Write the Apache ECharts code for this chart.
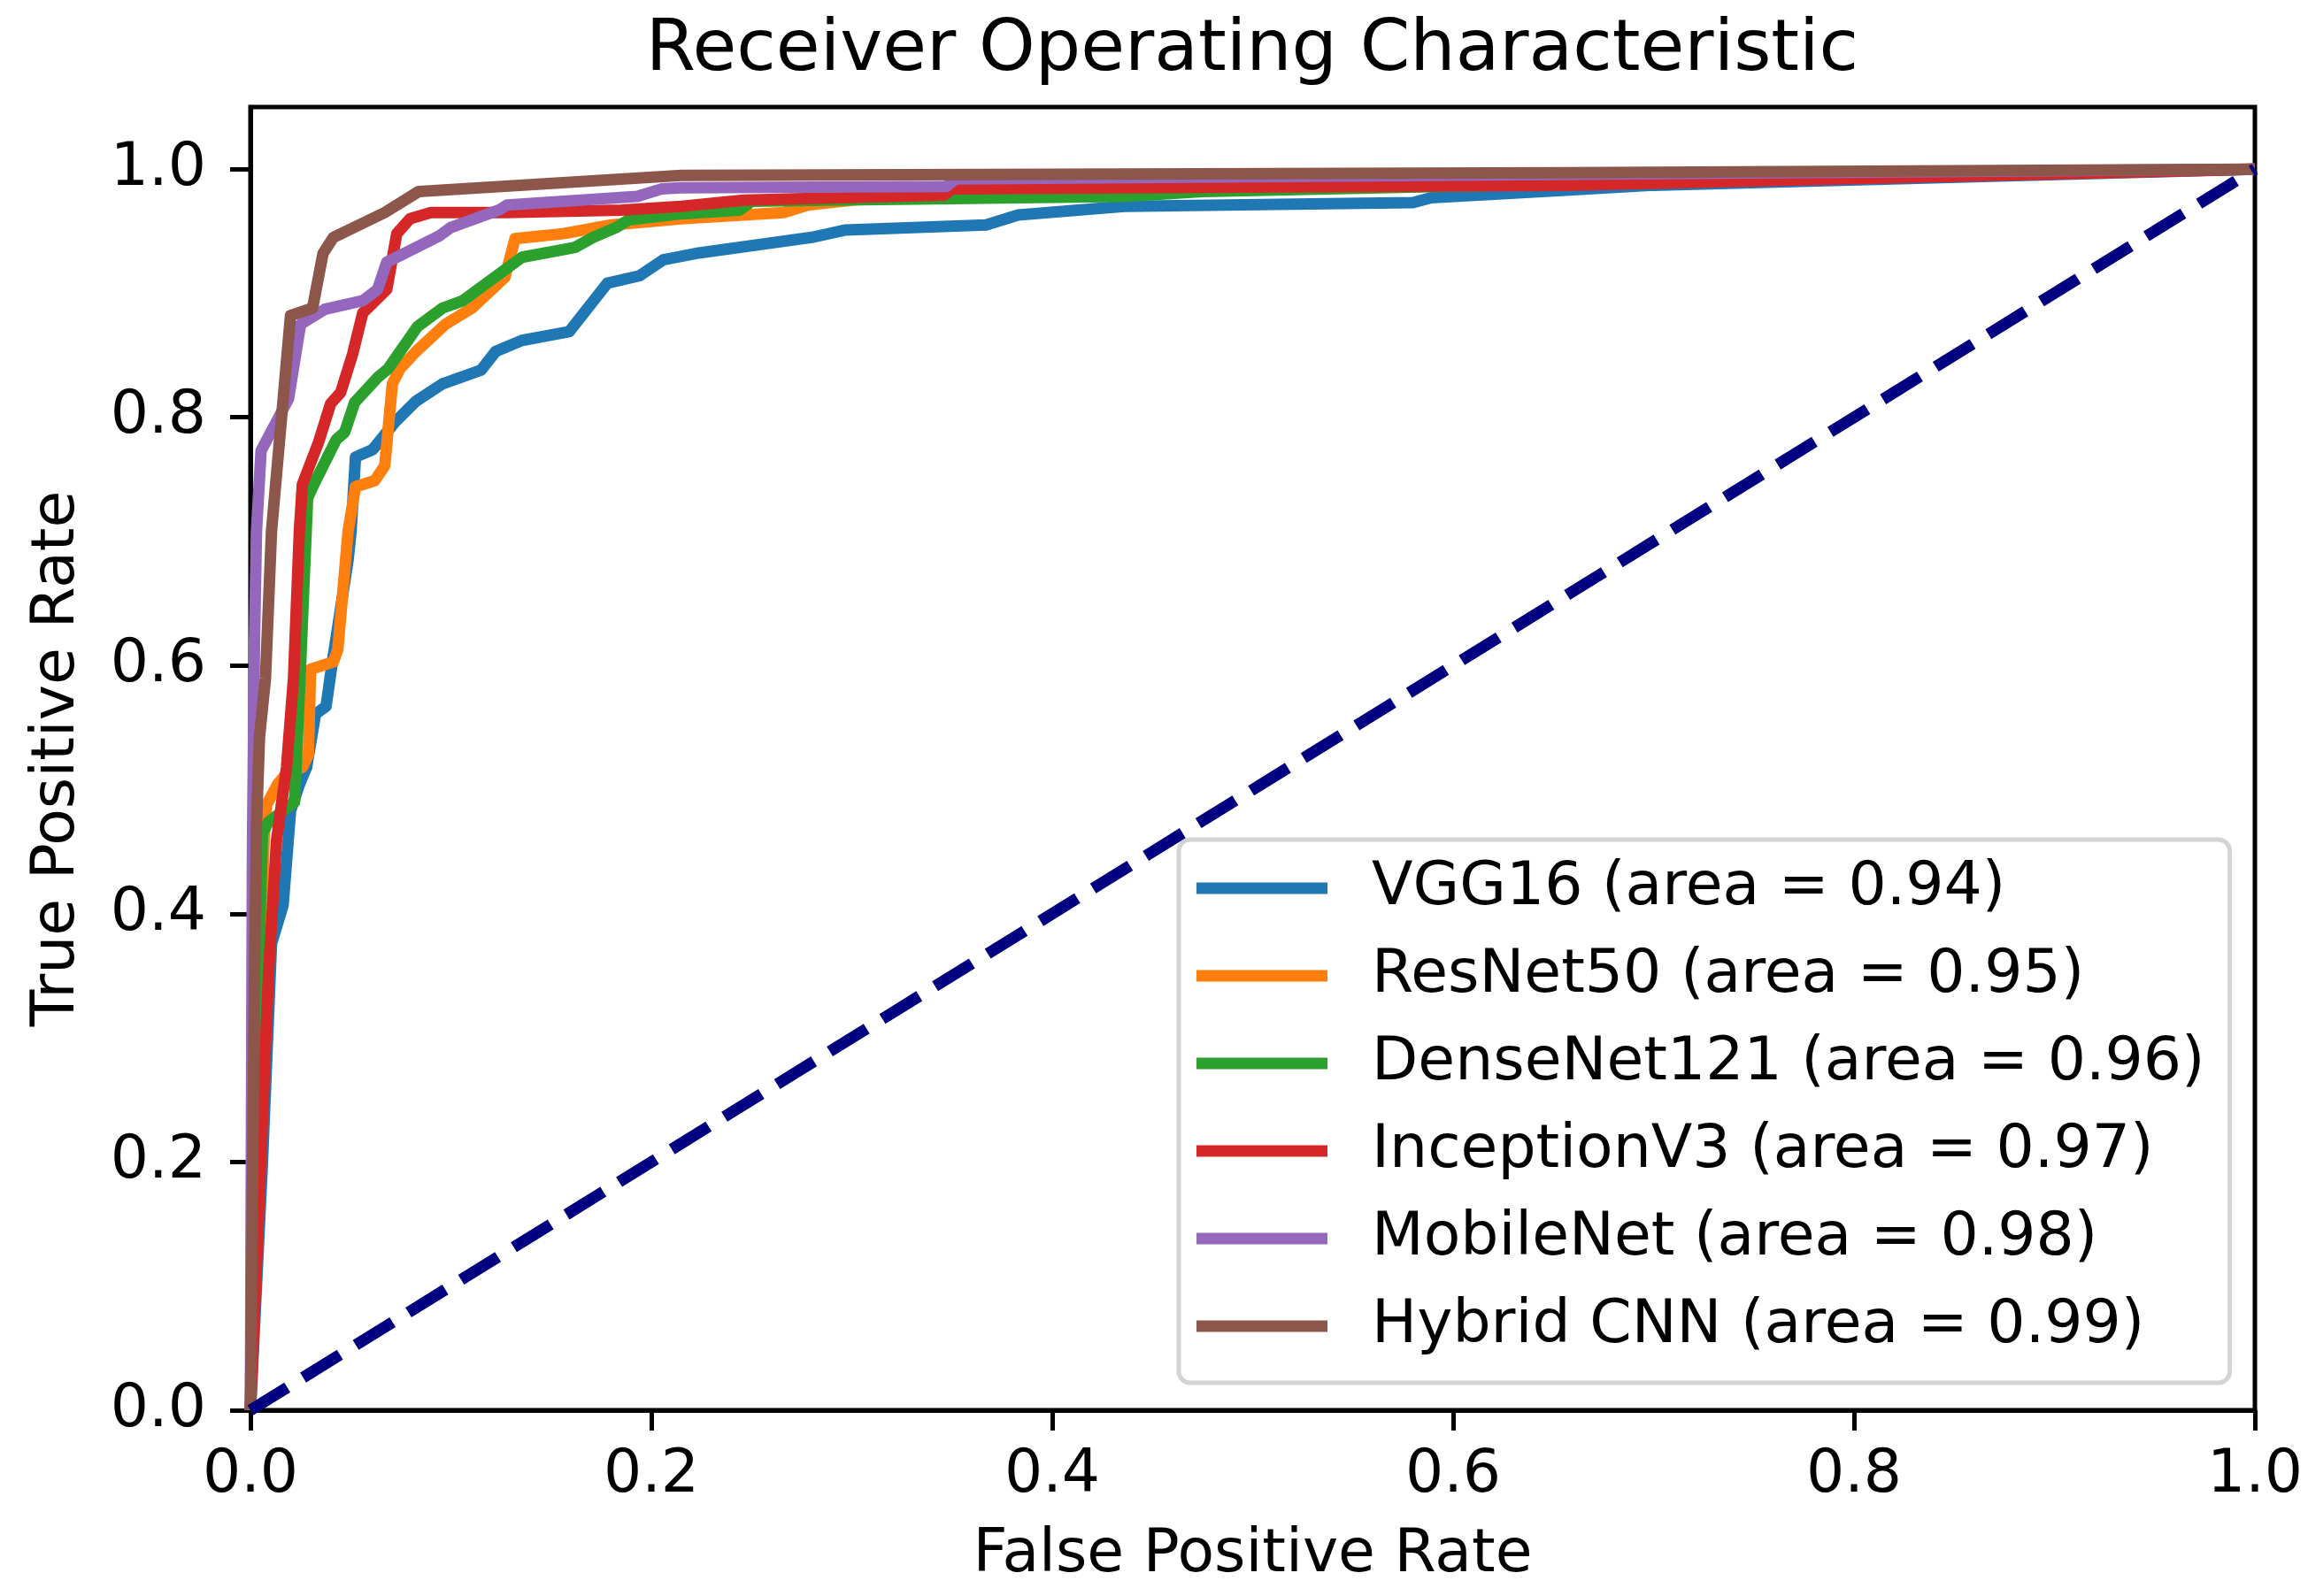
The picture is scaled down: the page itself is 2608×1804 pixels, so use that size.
<!DOCTYPE html>
<html>
<head>
<meta charset="utf-8">
<script src="https://cdn.jsdelivr.net/npm/echarts@6/dist/echarts.min.js"></script>
<style>
html,body{margin:0;padding:0;background:#fff;}
#chart{width:2608px;height:1804px;}
</style>
</head>
<body>
<div id="chart"></div>
<script>
const xTicks = [0, 0.2, 0.4, 0.6, 0.8, 1.0];
const yTicks = [0, 0.2, 0.4, 0.6, 0.8, 1.0];
const modelNames = ['VGG16 (area = 0.94)', 'ResNet50 (area = 0.95)', 'DenseNet121 (area = 0.96)',
  'InceptionV3 (area = 0.97)', 'MobileNet (area = 0.98)', 'Hybrid CNN (area = 0.99)'];
const modelColors = ['#1f77b4', '#ff7f0e', '#2ca02c', '#d62728', '#9467bd', '#8c564b'];

const vgg16 = [[0,0],[0.006,0.2],[0.0105,0.376],[0.0163,0.407],[0.020,0.483],[0.0244,0.504],[0.028,0.518],[0.0325,0.561],[0.0377,0.567],[0.0406,0.60],[0.0487,0.685],[0.0502,0.708],[0.0524,0.768],[0.061,0.774],[0.072,0.796],[0.0826,0.813],[0.0958,0.827],[0.115,0.838],[0.1223,0.853],[0.1355,0.862],[0.159,0.869],[0.178,0.908],[0.194,0.914],[0.206,0.927],[0.222,0.932],[0.280,0.945],[0.297,0.951],[0.367,0.955],[0.383,0.963],[0.436,0.970],[0.580,0.973],[0.589,0.977],[0.656,0.983],[0.70,0.987],[1,1]];
const resnet50 = [[0,0],[0.005,0.35],[0.0068,0.46],[0.008,0.4875],[0.0134,0.504],[0.0185,0.514],[0.0259,0.518],[0.0289,0.528],[0.030,0.597],[0.0414,0.603],[0.0436,0.613],[0.0487,0.708],[0.0524,0.744],[0.062,0.749],[0.067,0.761],[0.0708,0.827],[0.0745,0.839],[0.0826,0.853],[0.0973,0.875],[0.1105,0.888],[0.127,0.913],[0.132,0.944],[0.156,0.948],[0.180,0.955],[0.215,0.960],[0.266,0.965],[0.278,0.971],[0.30,0.975],[0.35,0.984],[0.5,0.99],[1,1]];
const densenet121 = [[0,0],[0.003,0.30],[0.006,0.465],[0.009,0.474],[0.022,0.49],[0.025,0.60],[0.0285,0.735],[0.0318,0.7465],[0.0428,0.782],[0.047,0.788],[0.052,0.812],[0.0634,0.832],[0.0686,0.839],[0.0833,0.873],[0.0958,0.888],[0.106,0.894],[0.1355,0.929],[0.162,0.937],[0.171,0.945],[0.1826,0.953],[0.1885,0.959],[0.215,0.964],[0.244,0.967],[0.250,0.974],[0.288,0.975],[0.436,0.978],[0.475,0.982],[1,1]];
const inceptionV3 = [[0,0],[0.009,0.352],[0.013,0.459],[0.018,0.518],[0.0215,0.59],[0.0244,0.708],[0.0259,0.746],[0.034,0.78],[0.040,0.811],[0.045,0.820],[0.051,0.851],[0.056,0.884],[0.068,0.903],[0.073,0.948],[0.0796,0.960],[0.090,0.965],[0.127,0.965],[0.185,0.967],[0.215,0.970],[0.246,0.975],[0.346,0.979],[0.350,0.984],[0.436,0.985],[0.656,0.987],[1,1]];
const mobileNet = [[0,0],[0.001,0.45],[0.002,0.62],[0.003,0.708],[0.0053,0.773],[0.019,0.815],[0.025,0.875],[0.037,0.887],[0.056,0.894],[0.0634,0.903],[0.068,0.925],[0.094,0.946],[0.100,0.953],[0.124,0.967],[0.128,0.971],[0.193,0.978],[0.205,0.984],[0.215,0.985],[0.347,0.986],[0.352,0.992],[1,1]];
const hybridCNN = [[0,0],[0.002,0.35],[0.003,0.471],[0.0045,0.542],[0.0075,0.59],[0.0105,0.708],[0.020,0.882],[0.031,0.888],[0.0362,0.932],[0.0414,0.945],[0.067,0.965],[0.084,0.982],[0.215,0.995],[0.436,0.996],[0.656,0.997],[1,1]];
const chanceLine = [[0,0],[1,1]];

const curves = [vgg16, resnet50, densenet121, inceptionV3, mobileNet, hybridCNN];
const FONT = 'DejaVu Sans';
const FS = 68;

const series = curves.map((d, i) => ({
  name: modelNames[i],
  type: 'line',
  data: d,
  showSymbol: false,
  symbol: 'none',
  color: modelColors[i],
  lineStyle: { width: 13, color: modelColors[i], join: 'round', cap: 'butt' },
  z: 2 + i
}));
series.push({
  name: 'chance',
  type: 'line',
  data: chanceLine,
  showSymbol: false,
  symbol: 'none',
  lineStyle: { width: 13, color: '#000080', type: [49, 21], cap: 'butt' },
  z: 10
});

const chart = echarts.init(document.getElementById('chart'), null, { renderer: 'canvas' });
chart.setOption({
  animation: false,
  backgroundColor: '#ffffff',
  title: {
    text: 'Receiver Operating Characteristic',
    left: 1415,
    textAlign: 'center',
    top: 17,
    padding: 0,
    textStyle: { fontFamily: FONT, fontSize: 81, fontWeight: 'normal', color: '#000' }
  },
  grid: {
    left: 283, right: 60, top: 121, bottom: 210,
    show: true, borderColor: '#000', borderWidth: 5, backgroundColor: 'transparent'
  },
  legend: {
    data: modelNames,
    orient: 'vertical',
    left: 1332,
    top: 949,
    padding: [21, 28, 30, 20],
    itemGap: 31,
    itemWidth: 148,
    itemHeight: 13,
    icon: 'rect',
    backgroundColor: 'rgba(255,255,255,0.8)',
    borderColor: '#d4d4d4',
    borderWidth: 5,
    borderRadius: 13,
    textStyle: { fontFamily: FONT, fontSize: FS, color: '#000', lineHeight: 68, padding: [0, 0, 0, 45] }
  },
  xAxis: {
    type: 'value', min: 0, max: 1, interval: 0.2,
    name: 'False Positive Rate', nameLocation: 'middle', nameGap: 130,
    nameTextStyle: { fontFamily: FONT, fontSize: FS, color: '#000' },
    axisLine: { show: true, lineStyle: { color: '#000', width: 5 } },
    axisTick: { show: true, length: 23, lineStyle: { color: '#000', width: 5 }, customValues: xTicks },
    axisLabel: { margin: 40, fontFamily: FONT, fontSize: FS, color: '#000', customValues: xTicks,
      formatter: v => v.toFixed(1) },
    splitLine: { show: false }
  },
  yAxis: {
    type: 'value', min: 0, max: 1.05, interval: 0.2,
    name: 'True Positive Rate', nameLocation: 'middle', nameGap: 184,
    nameTextStyle: { fontFamily: FONT, fontSize: FS, color: '#000' },
    axisLine: { show: true, lineStyle: { color: '#000', width: 5 } },
    axisTick: { show: true, length: 23, lineStyle: { color: '#000', width: 5 }, customValues: yTicks },
    axisLabel: { margin: 50, fontFamily: FONT, fontSize: FS, color: '#000', customValues: yTicks,
      formatter: v => v.toFixed(1) },
    splitLine: { show: false }
  },
  series: series
});
</script>
</body>
</html>
